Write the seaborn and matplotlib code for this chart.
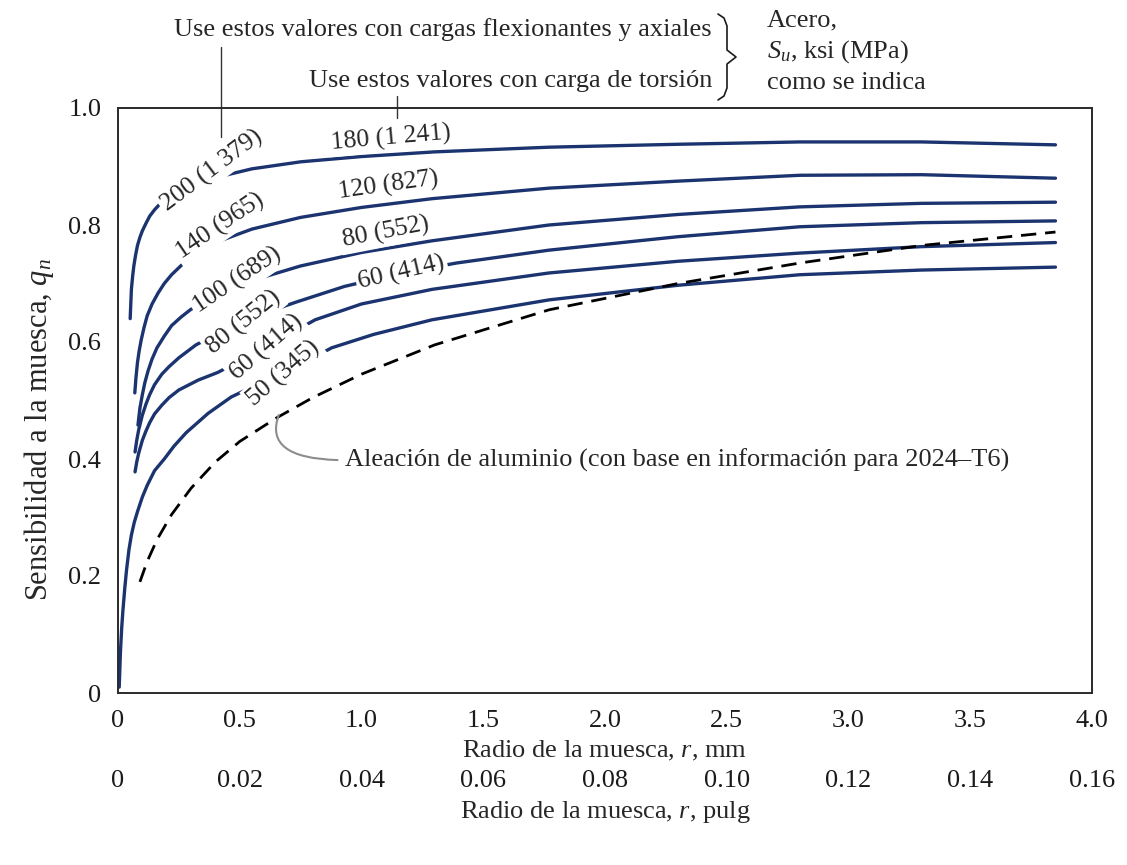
import matplotlib
matplotlib.use("Agg")
import matplotlib.pyplot as plt
import seaborn as sns
from matplotlib.lines import Line2D

# radio de la muesca r (mm) y sensibilidad q para cada curva
r_200 = [0.05, 0.055, 0.06, 0.065, 0.072, 0.08, 0.09, 0.1, 0.115, 0.13, 0.15, 0.17, 0.2, 0.24, 0.3, 0.4, 0.55, 0.75, 1.0, 1.3, 1.77, 2.3, 2.8, 3.3, 3.85]
q_200 = [0.64, 0.69, 0.712, 0.73, 0.748, 0.765, 0.779, 0.79, 0.803, 0.815, 0.826, 0.835, 0.845, 0.855, 0.866, 0.881, 0.896, 0.908, 0.917, 0.925, 0.933, 0.938, 0.942, 0.942, 0.937]

r_140 = [0.069, 0.074, 0.08, 0.087, 0.095, 0.107, 0.12, 0.14, 0.165, 0.19, 0.22, 0.26, 0.3, 0.35, 0.4, 0.55, 0.75, 1.0, 1.29, 1.77, 2.3, 2.8, 3.3, 3.85]
q_140 = [0.513, 0.54, 0.565, 0.585, 0.603, 0.625, 0.645, 0.665, 0.684, 0.7, 0.715, 0.731, 0.745, 0.758, 0.77, 0.793, 0.813, 0.83, 0.845, 0.863, 0.875, 0.885, 0.886, 0.880]

r_100 = [0.082, 0.09, 0.1, 0.11, 0.123, 0.14, 0.16, 0.19, 0.22, 0.26, 0.3, 0.35, 0.4, 0.55, 0.75, 1.0, 1.29, 1.77, 2.3, 2.8, 3.3, 3.85]
q_100 = [0.458, 0.487, 0.51, 0.53, 0.55, 0.571, 0.59, 0.61, 0.628, 0.643, 0.656, 0.668, 0.678, 0.705, 0.73, 0.753, 0.773, 0.80, 0.818, 0.831, 0.837, 0.839]

r_80 = [0.07, 0.077, 0.085, 0.1, 0.115, 0.13, 0.15, 0.18, 0.21, 0.25, 0.32, 0.42, 0.515, 0.62, 0.73, 0.93, 1.165, 1.39, 1.77, 2.3, 2.8, 3.3, 3.85]
q_80 = [0.412, 0.432, 0.45, 0.475, 0.494, 0.51, 0.527, 0.545, 0.558, 0.573, 0.595, 0.617, 0.634, 0.652, 0.668, 0.695, 0.718, 0.735, 0.757, 0.78, 0.797, 0.804, 0.807]

r_60 = [0.07, 0.077, 0.085, 0.1, 0.115, 0.13, 0.15, 0.18, 0.21, 0.25, 0.33, 0.41, 0.51, 0.61, 0.71, 0.81, 1.0, 1.29, 1.77, 2.3, 2.8, 3.3, 3.85]
q_60 = [0.378, 0.395, 0.41, 0.432, 0.448, 0.462, 0.477, 0.492, 0.505, 0.518, 0.535, 0.548, 0.57, 0.59, 0.615, 0.638, 0.665, 0.69, 0.718, 0.738, 0.752, 0.763, 0.770]

r_50 = [0.005, 0.01, 0.015, 0.02, 0.028, 0.035, 0.045, 0.055, 0.067, 0.08, 0.1, 0.12, 0.15, 0.19, 0.23, 0.28, 0.37, 0.465, 0.57, 0.68, 0.78, 0.877, 1.05, 1.29, 1.77, 2.3, 2.8, 3.3, 3.85]
q_50 = [0.01, 0.07, 0.11, 0.14, 0.18, 0.21, 0.245, 0.27, 0.292, 0.31, 0.335, 0.355, 0.38, 0.40, 0.422, 0.445, 0.478, 0.506, 0.527, 0.548, 0.568, 0.59, 0.613, 0.638, 0.672, 0.697, 0.715, 0.723, 0.728]

# aleacion de aluminio 2024-T6 (discontinua)
r_al = [0.09, 0.12, 0.16, 0.22, 0.3, 0.4, 0.5, 0.65, 0.8, 1.0, 1.3, 1.77, 2.3, 2.8, 3.3, 3.85]
q_al = [0.19, 0.225, 0.262, 0.305, 0.35, 0.395, 0.43, 0.47, 0.505, 0.545, 0.595, 0.655, 0.70, 0.735, 0.765, 0.788]

mm_ticks = [0, 0.5, 1.0, 1.5, 2.0, 2.5, 3.0, 3.5, 4.0]
mm_labels = ["0", "0.5", "1.0", "1.5", "2.0", "2.5", "3.0", "3.5", "4.0"]
in_labels = ["0", "0.02", "0.04", "0.06", "0.08", "0.10", "0.12", "0.14", "0.16"]
q_ticks = [0, 0.2, 0.4, 0.6, 0.8, 1.0]
q_labels = ["0", "0.2", "0.4", "0.6", "0.8", "1.0"]

labels_flex = ["200 (1 379)", "140 (965)", "100 (689)", "80 (552)", "60 (414)", "50 (345)"]
labels_tors = ["180 (1 241)", "120 (827)", "80 (552)", "60 (414)"]

sns.set_style("white")
plt.rcParams["font.family"] = ["Liberation Serif", "DejaVu Serif"]
plt.rcParams["mathtext.fontset"] = "custom"
plt.rcParams["mathtext.rm"] = "Liberation Serif"
plt.rcParams["mathtext.it"] = "Liberation Serif:italic"

W, H = 1127, 865
fig = plt.figure(figsize=(W / 100, H / 100), dpi=100)
ax = fig.add_axes([118 / W, 1 - 693 / H, 974 / W, 585 / H])

blue = "#1b3470"
for r, q in [(r_200, q_200), (r_140, q_140), (r_100, q_100), (r_80, q_80), (r_60, q_60), (r_50, q_50)]:
    sns.lineplot(x=r, y=q, ax=ax, color=blue, lw=2.4, sort=False, estimator=None, zorder=2)
sns.lineplot(x=r_al, y=q_al, ax=ax, color="black", lw=2.0, ls=(0, (5.5, 3.2)), sort=False, estimator=None, zorder=2)

ax.set_xlim(0, 4.0)
ax.set_ylim(0, 1.0)
for s in ax.spines.values():
    s.set_linewidth(1.4)
    s.set_color("#2a2a2a")

fs = 19
ax.set_xticks(mm_ticks, labels=mm_labels, fontsize=fs)
ax.set_yticks(q_ticks, labels=q_labels, fontsize=fs)
ax.tick_params(axis="x", direction="in", length=7, width=1, pad=12, colors="#1a1a1a")
ax.tick_params(axis="y", length=0, pad=12, colors="#1a1a1a")
ax.set_xlabel("Radio de la muesca, $r$, mm", fontsize=fs, labelpad=5)
ax.set_ylabel("Sensibilidad a la muesca, $q_n$", fontsize=22)
ax.yaxis.set_label_coords(-0.064, 0.45)

sec = ax.secondary_xaxis(-0.1026)
sec.set_xticks(mm_ticks, labels=in_labels, fontsize=fs)
sec.tick_params(length=0, pad=12, colors="#1a1a1a")
sec.spines["bottom"].set_visible(False)
sec.set_xlabel("Radio de la muesca, $r$, pulg", fontsize=fs, labelpad=5)

# etiquetas de las curvas
box = dict(boxstyle="square,pad=0.1", fc="white", ec="none")
lfs = 18.5
left_pos = [(0.385, 0.893, 37), (0.42, 0.797, 34), (0.49, 0.705, 34), (0.515, 0.634, 39), (0.61, 0.59, 41), (0.68, 0.547, 41)]
for txt, (x, y, rot) in zip(labels_flex, left_pos):
    ax.text(x, y, txt, fontsize=lfs, rotation=rot, ha="center", va="center",
            rotation_mode="anchor", bbox=box, zorder=3)
right_pos = [(1.12, 0.949, 5), (1.11, 0.868, 8), (1.10, 0.787, 11), (1.165, 0.718, 13)]
for txt, (x, y, rot) in zip(labels_tors, right_pos):
    ax.text(x, y, txt, fontsize=lfs, rotation=rot, ha="center", va="center",
            rotation_mode="anchor", bbox=box, zorder=3)

ax.annotate("Aleación de aluminio (con base en información para 2024–T6)",
            xy=(0.66, 0.475), xytext=(0.932, 0.398), fontsize=fs, ha="left", va="center",
            arrowprops=dict(arrowstyle="-", color="0.55", lw=1.5, shrinkA=3, shrinkB=0,
                            relpos=(0, 0.5), connectionstyle="angle3,angleA=0,angleB=70"))

# lineas guia hacia los textos superiores
ax.plot([0.423, 0.423], [0.950, 1.105], color="#333333", lw=1.0, clip_on=False)
ax.plot([1.146, 1.146], [0.983, 1.02], color="#333333", lw=1.0, clip_on=False)

def px(x, y):
    return x / W, 1 - y / H

fig.text(*px(712, 30), "Use estos valores con cargas flexionantes y axiales", fontsize=fs, ha="right", va="center")
fig.text(*px(712, 81), "Use estos valores con carga de torsión", fontsize=fs, ha="right", va="center")
fig.text(*px(767, 20), "Acero,", fontsize=fs, ha="left", va="center")
fig.text(*px(767, 52), "$S_u$, ksi (MPa)", fontsize=fs, ha="left", va="center")
fig.text(*px(767, 83), "como se indica", fontsize=fs, ha="left", va="center")

bx = [718, 724, 727, 727, 736, 727, 727, 724, 718]
by = [14, 18, 26, 50, 57, 64, 88, 96, 100]
fig.add_artist(Line2D([px(a, b)[0] for a, b in zip(bx, by)], [px(a, b)[1] for a, b in zip(bx, by)],
                      color="#1a1a1a", lw=1.2))

fig.savefig("out.png", dpi=100)
